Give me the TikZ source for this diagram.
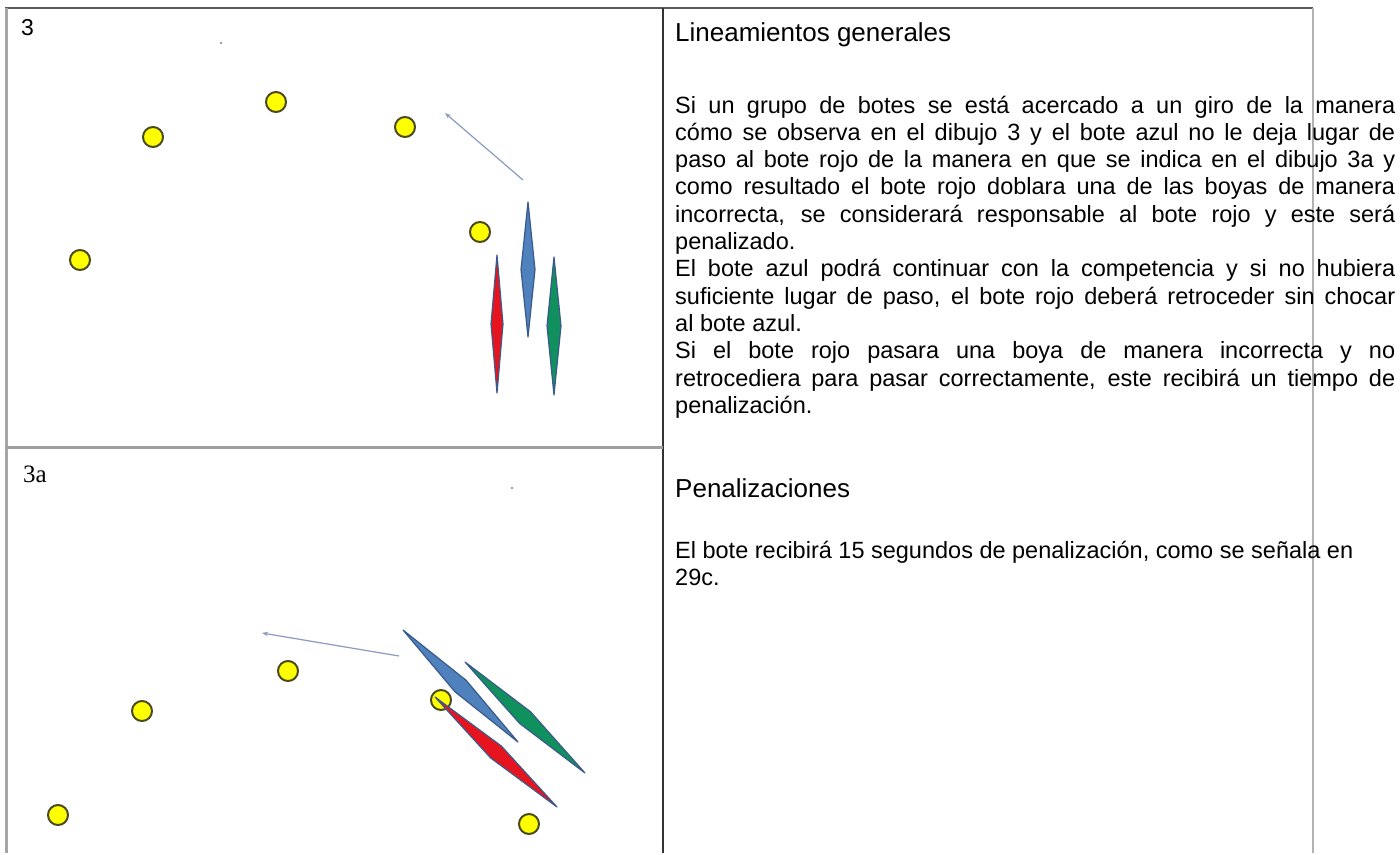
\documentclass[tikz,border=0pt]{standalone}
\usepackage{fontspec}
\setmainfont{Liberation Sans}
\newfontfamily\serifthree{Liberation Serif}
\usepackage{tikz}
\usetikzlibrary{calc,arrows.meta}

\definecolor{buoyfill}{HTML}{FFFF00}
\definecolor{buoyline}{HTML}{4A4A22}
\definecolor{boatline}{HTML}{3A5A8C}
\definecolor{boatblue}{HTML}{4F81BD}
\definecolor{boatred}{HTML}{E6141E}
\definecolor{boatgreen}{HTML}{10905C}
\definecolor{courseline}{HTML}{8A9AC0}

% justified line of the rules text
\newcommand{\jline}[1]{\makebox[\linewidth][s]{#1}}
\newcommand{\rulesfont}{\fontsize{23.5}{27.3}\selectfont\setlength{\lineskiplimit}{-50pt}}

\begin{document}
\begin{tikzpicture}[
    x=1pt, y=-1pt,
    buoy/.style={circle, draw=buoyline, fill=buoyfill, line width=2pt, minimum size=20pt, inner sep=0pt},
    boat/.style={draw=boatline, line width=1.2pt, line join=round},
    course/.style={draw=courseline, line width=1.2pt, -{Stealth[length=6pt,width=4.5pt]}},
    rules/.style={inner sep=0pt, anchor=base west, font=\rulesfont},
    heading/.style={inner sep=0pt, anchor=base west, font=\fontsize{26}{30}\selectfont}
]

% fondo
\fill[white] (0,0) rectangle (1400,853);

% tabla
\draw[gray!70!black, line width=2pt] (5,8) -- (1313,8);
\draw[gray!70, line width=3pt] (6,8) -- (6,853);
\draw[black!80, line width=1.5pt] (663,8) -- (663,853);
\draw[gray!60, line width=2pt] (1313,8) -- (1313,853);
\draw[gray!75, line width=3pt] (6,447) -- (663,447);

% dibujo 3
\node[heading, font=\fontsize{23}{26}\selectfont] (lab3) at (21,35) {3};
\fill[gray] (221,43) circle (1.2);

\node[buoy] (b1) at (276,102) {};
\node[buoy] (b2) at (153,137) {};
\node[buoy] (b3) at (405,127) {};
\node[buoy] (b4) at (80,260) {};
\node[buoy] (b5) at (480,232) {};

\coordinate (tail3) at (523,180);
\coordinate (tip3) at (445,113);
\draw[course] (tail3) -- (tip3);

\coordinate (bluetop) at (528,202);
\coordinate (bluebot) at (528,337);
\coordinate (redtop) at (497,255);
\coordinate (redbot) at (497,393);
\coordinate (greentop) at (554,257);
\coordinate (greenbot) at (554,395);
\draw[boat, fill=boatblue] (bluetop) -- ($(bluetop)!0.5!(bluebot)!7pt!90:(bluebot)$) -- (bluebot) -- ($(bluetop)!0.5!(bluebot)!7pt!-90:(bluebot)$) -- cycle;
\draw[boat, fill=boatred] (redtop) -- ($(redtop)!0.5!(redbot)!6pt!90:(redbot)$) -- (redbot) -- ($(redtop)!0.5!(redbot)!6pt!-90:(redbot)$) -- cycle;
\draw[boat, fill=boatgreen] (greentop) -- ($(greentop)!0.5!(greenbot)!7pt!90:(greenbot)$) -- (greenbot) -- ($(greentop)!0.5!(greenbot)!7pt!-90:(greenbot)$) -- cycle;

% dibujo 3a
\node[heading, font=\serifthree\fontsize{25}{28}\selectfont] (lab3a) at (23,482) {3a};
\fill[gray] (512,488) circle (1.2);

\node[buoy] (c1) at (288,671) {};
\node[buoy] (c2) at (142,711) {};
\node[buoy] (c3) at (441,700) {};
\node[buoy] (c4) at (58,815) {};
\node[buoy] (c5) at (529,824) {};

\coordinate (tail3a) at (399,656);
\coordinate (tip3a) at (262,633);
\draw[course] (tail3a) -- (tip3a);

\coordinate (abluetop) at (403,630);
\coordinate (abluebot) at (518,742);
\coordinate (agreentop) at (465,662);
\coordinate (agreenbot) at (585,773);
\coordinate (aredtop) at (435,697);
\coordinate (aredbot) at (557,807);
\draw[boat, fill=boatblue] (abluetop) -- ($(abluetop)!0.5!(abluebot)!8pt!90:(abluebot)$) -- (abluebot) -- ($(abluetop)!0.5!(abluebot)!8pt!-90:(abluebot)$) -- cycle;
\draw[boat, fill=boatgreen] (agreentop) -- ($(agreentop)!0.5!(agreenbot)!8pt!90:(agreenbot)$) -- (agreenbot) -- ($(agreentop)!0.5!(agreenbot)!8pt!-90:(agreenbot)$) -- cycle;
\draw[boat, fill=boatred] (aredtop) -- ($(aredtop)!0.5!(aredbot)!8pt!90:(aredbot)$) -- (aredbot) -- ($(aredtop)!0.5!(aredbot)!8pt!-90:(aredbot)$) -- cycle;

% texto de la derecha
\node[heading] (head1) at (675,41) {Lineamientos generales};
\node[rules] (body1) at (675,113) {\begin{minipage}[t]{720pt}\rulesfont
\jline{Si un grupo de botes se está acercado a un giro de la manera}\\
\jline{cómo se observa en el dibujo 3 y el bote azul no le deja lugar de}\\
\jline{paso al bote rojo de la manera en que se indica en el dibujo 3a y}\\
\jline{como resultado el bote rojo doblara una de las boyas de manera}\\
\jline{incorrecta, se considerará responsable al bote rojo y este será}\\
penalizado.\\
\jline{El bote azul podrá continuar con la competencia y si no hubiera}\\
\jline{suficiente lugar de paso, el bote rojo deberá retroceder sin chocar}\\
al bote azul.\\
\jline{Si el bote rojo pasara una boya de manera incorrecta y no}\\
\jline{retrocediera para pasar correctamente, este recibirá un tiempo de}\\
penalización.
\end{minipage}};

\node[heading] (head2) at (675,497) {Penalizaciones};
\node[rules] (body2) at (675,558) {\begin{minipage}[t]{720pt}\rulesfont
El bote recibirá 15 segundos de penalización, como se señala en\\
29c.
\end{minipage}};

\end{tikzpicture}
\end{document}
